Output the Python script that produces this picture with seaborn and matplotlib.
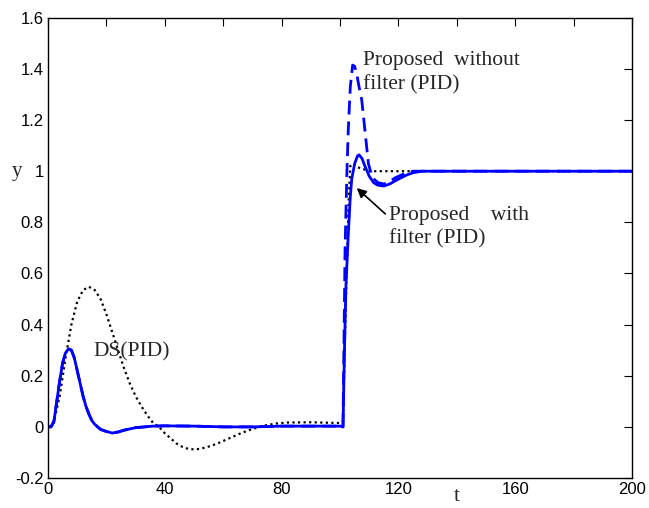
import numpy as np
import matplotlib
matplotlib.use("Agg")
import matplotlib.pyplot as plt
import seaborn as sns

sns.set_theme(style="white")
plt.rcParams.update({
    'font.family': 'Liberation Sans',
    'xtick.direction': 'in',
    'ytick.direction': 'in',
})

# Proposed with filter (PID) - solid blue
t_filt = [0, 1, 2, 3, 4, 5, 6, 7, 8, 9, 10, 11, 12, 13, 14, 15, 16, 17, 18, 20, 22, 24, 26,
          28, 30, 33, 36, 40, 50, 60, 70, 80, 90, 100, 101, 101.5, 102, 102.8, 103.5, 104,
          105, 106, 106.5, 107.5, 108.5, 110, 111.5, 113, 115, 117, 119, 121, 123, 125, 128, 200]
y_filt = [0, 0, 0.02, 0.1, 0.18, 0.25, 0.29, 0.305, 0.3, 0.27, 0.22, 0.17, 0.12, 0.08, 0.05,
          0.025, 0.01, 0.0, -0.01, -0.018, -0.024, -0.02, -0.013, -0.008, -0.003, 0.0, 0.003,
          0.004, 0.003, 0.0, 0.0, 0.003, 0.003, 0.003, 0.0, 0.3, 0.55, 0.75, 0.9, 0.97, 1.03,
          1.06, 1.064, 1.05, 1.02, 0.98, 0.955, 0.945, 0.942, 0.95, 0.963, 0.975, 0.986, 0.994,
          1.0, 1.0]

# Proposed without filter (PID) - dashed blue (same as filtered before the step)
t_nofilt = [0, 1, 2, 3, 4, 5, 6, 7, 8, 9, 10, 11, 12, 13, 14, 15, 16, 17, 18, 20, 22, 24, 26,
            28, 30, 33, 36, 40, 50, 60, 70, 80, 90, 100, 101, 101.7, 102.3, 102.8, 103.5, 104.3,
            105, 105.7, 106.5, 107.4, 108.6, 109.7, 111, 113, 115, 117, 119, 122, 125, 200]
y_nofilt = [0, 0, 0.02, 0.1, 0.18, 0.25, 0.29, 0.305, 0.3, 0.27, 0.22, 0.17, 0.12, 0.08, 0.05,
            0.025, 0.01, 0.0, -0.01, -0.018, -0.024, -0.02, -0.013, -0.008, -0.003, 0.0, 0.003,
            0.004, 0.003, 0.0, 0.0, 0.003, 0.003, 0.003, 0.0, 0.69, 0.98, 1.16, 1.33, 1.415,
            1.41, 1.38, 1.33, 1.28, 1.15, 1.03, 0.975, 0.955, 0.95, 0.96, 0.975, 0.99, 1.0, 1.0]

# DS(PID) - dotted black
t_ds = [0, 2, 4, 6, 8, 10, 12, 14, 16, 18, 20, 22, 24, 26, 28, 30, 32, 34, 36, 38, 40, 42, 44,
        46, 48, 50, 52, 55, 58, 62, 66, 70, 74, 78, 82, 90, 100, 101, 102, 103, 103.5, 104.5,
        105.5, 107, 109, 112, 116, 200]
y_ds = [0, 0.02, 0.12, 0.27, 0.4, 0.49, 0.535, 0.548, 0.535, 0.5, 0.44, 0.37, 0.3, 0.23, 0.17,
        0.12, 0.08, 0.045, 0.015, 0.0, -0.025, -0.045, -0.065, -0.078, -0.086, -0.088, -0.086,
        -0.077, -0.065, -0.045, -0.025, -0.008, 0.005, 0.013, 0.017, 0.018, 0.015, 0.02, 0.5,
        0.9, 1.02, 1.03, 1.02, 1.01, 1.005, 1.0, 1.0, 1.0]

x_ticks = [0, 20, 40, 60, 80, 100, 120, 140, 160, 180, 200]
x_ticklabels = ['0', '', '40', '', '80', '', '120', '', '160', '', '200']
y_ticks = [-0.2, 0, 0.2, 0.4, 0.6, 0.8, 1, 1.2, 1.4, 1.6]
y_ticklabels = ['-0.2', '0', '0.2', '0.4', '0.6', '0.8', '1', '1.2', '1.4', '1.6']

fig = plt.figure(figsize=(6.49, 5.08), dpi=100)
ax = fig.add_axes([0.074, 0.059, 0.9, 0.906])

blue = '#0000ff'
sns.lineplot(x=t_ds, y=y_ds, ax=ax, color='black', linestyle=(0, (1, 1.5)), linewidth=1.6, sort=False)
sns.lineplot(x=t_nofilt, y=y_nofilt, ax=ax, color=blue, linestyle=(0, (5, 2.5)), linewidth=2, sort=False)
sns.lineplot(x=t_filt, y=y_filt, ax=ax, color=blue, linewidth=2, sort=False)

ax.set_xlim(0, 200)
ax.set_ylim(-0.2, 1.6)
ax.set_xticks(x_ticks)
ax.set_xticklabels(x_ticklabels)
ax.set_yticks(y_ticks)
ax.set_yticklabels(y_ticklabels)
ax.tick_params(axis='both', which='both', direction='in', length=6, width=0.8,
               labelsize=12, colors='black', top=True, right=True, pad=3)

for s in ax.spines.values():
    s.set_color('black')
    s.set_linewidth(1)
ax.grid(False)

serif = 'Liberation Serif'
ax.set_xlabel('')
ax.set_ylabel('')
fig.text(0.018, 0.663, 'y', fontsize=15, family=serif, ha='left', va='center')
fig.text(0.703, 0.022, 't', fontsize=15, family=serif, ha='center', va='center')

ax.text(108, 1.47, 'Proposed  without\nfilter (PID)', fontsize=15.5, family=serif,
        va='top', ha='left', linespacing=1.32)
ax.text(15.4, 0.293, 'DS(PID)', fontsize=15.5, family=serif, va='center', ha='left')
ax.annotate('Proposed    with\nfilter (PID)', xy=(105.7, 0.934), xytext=(116.6, 0.865),
            fontsize=15.5, family=serif, va='top', ha='left', linespacing=1.32,
            arrowprops=dict(arrowstyle='-|>', color='black', lw=1.2,
                            shrinkA=0, shrinkB=0, mutation_scale=14,
                            relpos=(-0.02, 0.8)))

fig.savefig('out.png', dpi=100)
